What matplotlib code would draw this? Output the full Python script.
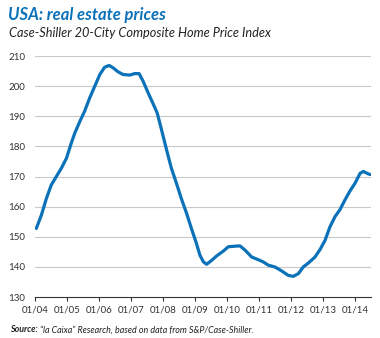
import matplotlib
matplotlib.use("Agg")
import matplotlib.pyplot as plt

# Case-Shiller 20-City Composite
# months counted from January 2004
month_index = [
    0.5, 2.4, 4.3, 6.1, 8.0, 9.9, 11.8, 13.6, 14.9, 16.8, 18.6, 20.5, 22.4,
    24.3, 26.1, 27.8, 29.3, 31.1, 33.0, 35.5, 37.4, 39.0, 40.5, 42.4, 44.3,
    45.8, 47.4, 49.3, 51.1, 53.0, 54.8, 56.8, 58.6, 60.5, 61.8, 63.1, 64.3,
    66.2, 68.1, 70.6, 72.4, 74.9, 76.8, 78.7, 81.2, 83.7, 85.5, 87.4, 89.9,
    92.4, 94.9, 96.8, 98.7, 100.5, 102.4, 104.9, 106.8, 108.7, 110.5, 112.4,
    114.3, 116.1, 118.0, 119.9, 121.8, 123.0, 124.9, 125.6,
]
index_values = [
    152.8, 157.2, 162.8, 167.2, 170.0, 172.8, 176.1, 181.1, 184.4, 188.3, 191.7,
    196.1, 200.0, 203.9, 206.3, 206.9, 206.1, 204.8, 203.9, 203.7, 204.2, 204.2,
    201.7, 197.8, 194.1, 191.1, 185.6, 178.9, 172.8, 167.8, 162.8, 157.8, 152.8,
    147.8, 143.9, 141.7, 140.9, 142.2, 143.7, 145.3, 146.7, 146.9, 147.0, 145.6,
    143.3, 142.4, 141.7, 140.6, 140.0, 138.7, 137.2, 136.9, 137.8, 140.0, 141.3,
    143.3, 145.8, 148.9, 153.3, 156.7, 159.1, 162.2, 165.2, 167.8, 171.1, 171.7,
    170.9, 170.7,
]
year_labels = ["01/04", "01/05", "01/06", "01/07", "01/08", "01/09",
               "01/10", "01/11", "01/12", "01/13", "01/14"]
y_ticks = [130, 140, 150, 160, 170, 180, 190, 200, 210]

plt.rcParams["font.family"] = ["Lato", "DejaVu Sans"]

fig = plt.figure(figsize=(3.8, 3.38), dpi=100)
ax = fig.add_axes([0.092, 0.121, 0.883, 0.713])

ax.plot(month_index, index_values, color="#0b72b9", lw=2.3,
        solid_capstyle="round", solid_joinstyle="round", zorder=3)

ax.set_ylim(130, 210)
ax.set_xlim(0, 125.7)
ax.set_yticks(y_ticks)
ax.set_xticks([12 * i for i in range(len(year_labels))])
ax.set_xticklabels(year_labels)

for v in y_ticks[1:]:
    ax.axhline(v, color="#c8c8c8", lw=0.8, zorder=1)

for side in ("top", "right", "left"):
    ax.spines[side].set_visible(False)
ax.spines["bottom"].set_color("#333333")
ax.spines["bottom"].set_linewidth(0.8)

ax.tick_params(axis="y", length=0, labelsize=7, colors="#333333", pad=7)
ax.tick_params(axis="x", length=3, width=0.8, color="#333333", labelsize=7,
               labelcolor="#333333", pad=3, direction="out")

fig.text(0.022, 0.955, "USA: real estate prices", color="#0b72b9",
         fontsize=12, fontweight="bold", style="italic", va="center")
fig.text(0.024, 0.902, "Case-Shiller 20-City Composite Home Price Index",
         color="#222222", fontsize=9.2, style="italic", va="center")

src = fig.text(0.026, 0.024, "Source:", color="#222222", fontsize=6.4,
               fontweight="bold", style="italic", va="center")
fig.canvas.draw()
bb = src.get_window_extent().transformed(fig.transFigure.inverted())
fig.text(bb.x1 + 0.006, 0.024,
         "\u201cla Caixa\u201d Research, based on data from S&P/Case-Shiller.",
         color="#222222", fontsize=6.4, style="italic", va="center")

fig.savefig("out.png", dpi=100)
